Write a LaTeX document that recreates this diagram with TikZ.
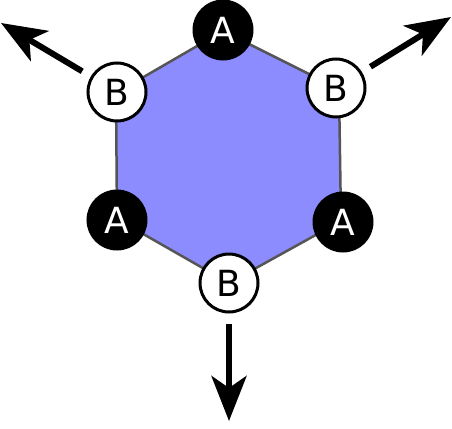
\documentclass[tikz,border=0pt]{standalone}
\usepackage{fontspec}
\setmainfont{DejaVu Sans}
\usetikzlibrary{arrows.meta}
\definecolor{hexfill}{RGB}{140,140,255}
\definecolor{hexline}{RGB}{85,85,85}
\begin{document}
\begin{tikzpicture}[
		x=1pt, y=-1pt,
		site/.style={
			circle,
			minimum size=58pt,
			inner sep=0pt,
			line width=3pt,
			font=\fontsize{36}{36}\selectfont
		},
		out arrow/.style={
			line width=6pt,
			-{Stealth[length=45pt, width=35pt, inset=12pt]}
		}
	]
	\tikzstyle{ASite} = [site, draw=black, fill=black, text=white]
	\tikzstyle{BSite} = [site, draw=black, fill=white, text=black]
	\useasboundingbox (0,0) rectangle (452,428);

	% corners of the ring
	\coordinate (c1) at (223,31);
	\coordinate (c2) at (339,89);
	\coordinate (c3) at (341,221);
	\coordinate (c4) at (229,283);
	\coordinate (c5) at (117,219);
	\coordinate (c6) at (116,93);
	\filldraw[fill=hexfill, draw=hexline, line width=2.5pt]
		(c1) -- (c2) -- (c3) -- (c4) -- (c5) -- (c6) -- cycle;

	\node (A1) [ASite] at (223,30) {A};
	\node (B1) [BSite] at (117,92) {B};
	\node (B2) [BSite] at (336,88) {B};
	\node (A2) [ASite] at (117,220) {A};
	\node (A3) [ASite] at (343,222) {A};
	\node (B3) [BSite] at (229,283) {B};

	% arrow tips
	\coordinate (tip1) at (1,23);
	\coordinate (tip2) at (451,17);
	\coordinate (tip3) at (229,421);
	\draw[out arrow, shorten <=10pt] (B1) -- (tip1);
	\draw[out arrow, shorten <=10pt] (B2) -- (tip2);
	\draw[out arrow, shorten <=10pt] (B3) -- (tip3);
\end{tikzpicture}
\end{document}
